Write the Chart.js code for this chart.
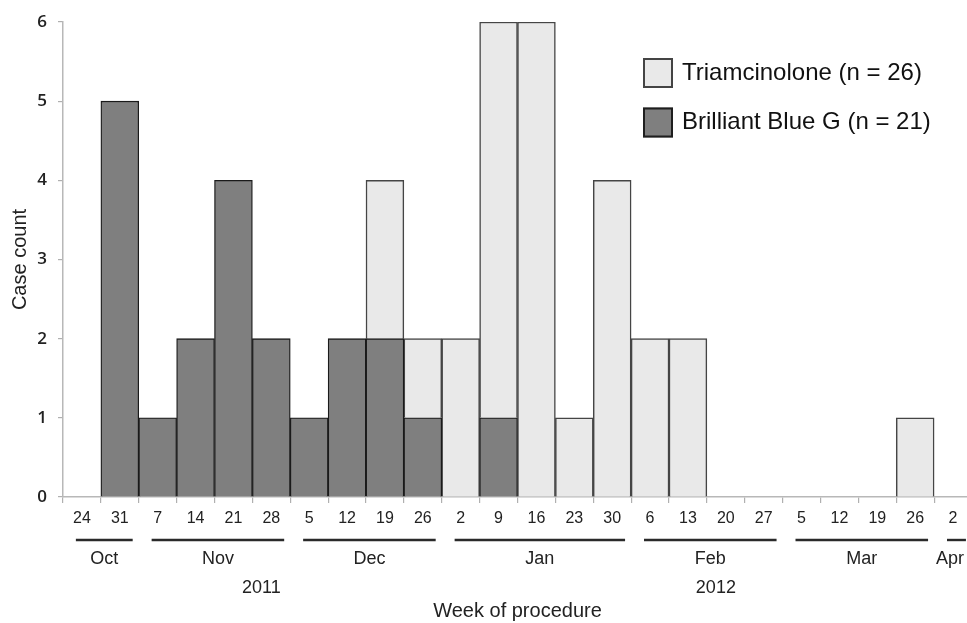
<!DOCTYPE html>
<html><head><meta charset="utf-8">
<style>
html,body{margin:0;padding:0;overflow:hidden;background:#fff;width:967px;height:623px}
#wrap{width:980px;height:623px}
canvas{display:block}
</style>
<script src="https://cdn.jsdelivr.net/npm/chart.js@4"></script>
</head><body><div id="wrap"><canvas id="c" width="980" height="623"></canvas></div>
<script>
const weekLabels = ["24","31","7","14","21","28","5","12","19","26","2","9","16","23","30","6","13","20","27","5","12","19","26","2"];
const brilliantBlueG = [0,5,1,2,4,2,1,2,2,1,0,1,0,0,0,0,0,0,0,0,0,0,0,0];
const triamcinolone  = [0,0,0,0,0,0,0,0,2,1,2,5,6,1,4,2,2,0,0,0,0,0,1,0];
const months = ["Oct","Nov","Dec","Jan","Feb","Mar","Apr"];
const weeksPerMonth = [2,4,4,5,4,4,1];
const years = ["2011","2012"];
const monthsPerYear = [3,4];
const yTicks = [0,1,2,3,4,5,6];
const legendLabels = ["Triamcinolone (n = 26)","Brilliant Blue G (n = 21)"];

const DARK = '#7f7f7f', LIGHT = '#e9e9e9';
const FONT = '"Liberation Sans", Arial, sans-serif';
const VIEW_W = 967;

const decor = {
  id: 'decor',
  afterDraw(chart) {
    const ctx = chart.ctx, x = chart.scales.x;
    const w = x.getPixelForValue(1) - x.getPixelForValue(0);
    ctx.save();
    let idx = 0;
    const monthStart = [];
    months.forEach((m, i) => {
      const first = idx, last = idx + weeksPerMonth[i] - 1;
      monthStart.push(first);
      idx += weeksPerMonth[i];
      const x0 = x.getPixelForValue(first) - w * 0.16;
      const x1 = x.getPixelForValue(last) + w * 0.34;
      ctx.strokeStyle = '#2a2a2a'; ctx.lineWidth = 2.4;
      ctx.beginPath(); ctx.moveTo(x0, 540); ctx.lineTo(x1, 540); ctx.stroke();
      ctx.fillStyle = '#222'; ctx.font = '18px ' + FONT;
      ctx.textAlign = 'center'; ctx.textBaseline = 'alphabetic';
      const tw = ctx.measureText(m).width;
      const cx = Math.min((x0 + x1) / 2, VIEW_W - tw / 2 - 3);
      ctx.fillText(m, cx, 564);
    });
    monthStart.push(idx);
    let mi = 0;
    years.forEach((y, i) => {
      const a = monthStart[mi], b = monthStart[mi + monthsPerYear[i]];
      mi += monthsPerYear[i];
      const left = x.getPixelForValue(a) - w / 2, right = x.getPixelForValue(b - 1) + w / 2;
      ctx.fillStyle = '#222'; ctx.font = '18px ' + FONT;
      ctx.textAlign = 'center'; ctx.textBaseline = 'alphabetic';
      ctx.fillText(y, (left + right) / 2 + 9, 593);
    });
    const items = [{t: legendLabels[0], f: LIGHT, s: '#444'}, {t: legendLabels[1], f: DARK, s: '#1e1e1e'}];
    items.forEach((it, i) => {
      const by = 58 + i * 49.5;
      ctx.fillStyle = it.f; ctx.fillRect(643, by, 30, 30);
      ctx.strokeStyle = it.s; ctx.lineWidth = 2; ctx.strokeRect(644, by + 1, 28, 28);
      ctx.fillStyle = '#111'; ctx.font = '24px ' + FONT;
      ctx.textAlign = 'left'; ctx.textBaseline = 'alphabetic';
      ctx.fillText(it.t, 682, by + 21.5);
    });
    ctx.restore();
  }
};

const nz = a => a.map(v => v === 0 ? null : v);

new Chart(document.getElementById('c'), {
  type: 'bar',
  data: {
    labels: weekLabels,
    datasets: [
      {label: legendLabels[1], data: nz(brilliantBlueG), backgroundColor: DARK, borderColor: '#1a1a1a', borderWidth: 1.3, stack: 's', categoryPercentage: 1, barPercentage: 1},
      {label: legendLabels[0], data: nz(triamcinolone), backgroundColor: LIGHT, borderColor: '#454545', borderWidth: 1.5, stack: 's', categoryPercentage: 1, barPercentage: 1}
    ]
  },
  options: {
    responsive: false,
    animation: false,
    layout: {padding: {top: 22, right: 8, bottom: 0, left: 0}},
    plugins: {legend: {display: false}, tooltip: {enabled: false}},
    scales: {
      x: {
        stacked: true,
        grid: {display: true, drawOnChartArea: false, drawTicks: true, tickLength: 6, color: '#b0b0b0', offset: true, lineWidth: 1.2},
        border: {display: true, color: '#b8b8b8', width: 1.5},
        ticks: {font: {family: FONT, size: 16}, color: '#222', padding: 6, maxRotation: 0, autoSkip: false},
        title: {display: true, text: 'Week of procedure', font: {family: FONT, size: 20}, color: '#222', padding: {top: 0, bottom: 0}},
        afterFit(s) { s.height = 126; }
      },
      y: {
        stacked: true,
        min: 0, max: 6,
        afterBuildTicks(s) { s.ticks = yTicks.map(v => ({value: v})); },
        grid: {display: true, drawOnChartArea: false, drawTicks: true, tickLength: 5, color: '#b0b0b0', lineWidth: 1.2},
        border: {display: true, color: '#b8b8b8', width: 1.5},
        ticks: {font: {family: '"Open Sans", sans-serif', size: 17, weight: '600'}, color: '#222', padding: 11},
        title: {display: true, text: 'Case count', font: {family: FONT, size: 20}, color: '#222', padding: {top: 8, bottom: 0}},
        afterFit(s) { s.width = 63; }
      }
    }
  },
  plugins: [decor]
});
</script>
</body></html>
